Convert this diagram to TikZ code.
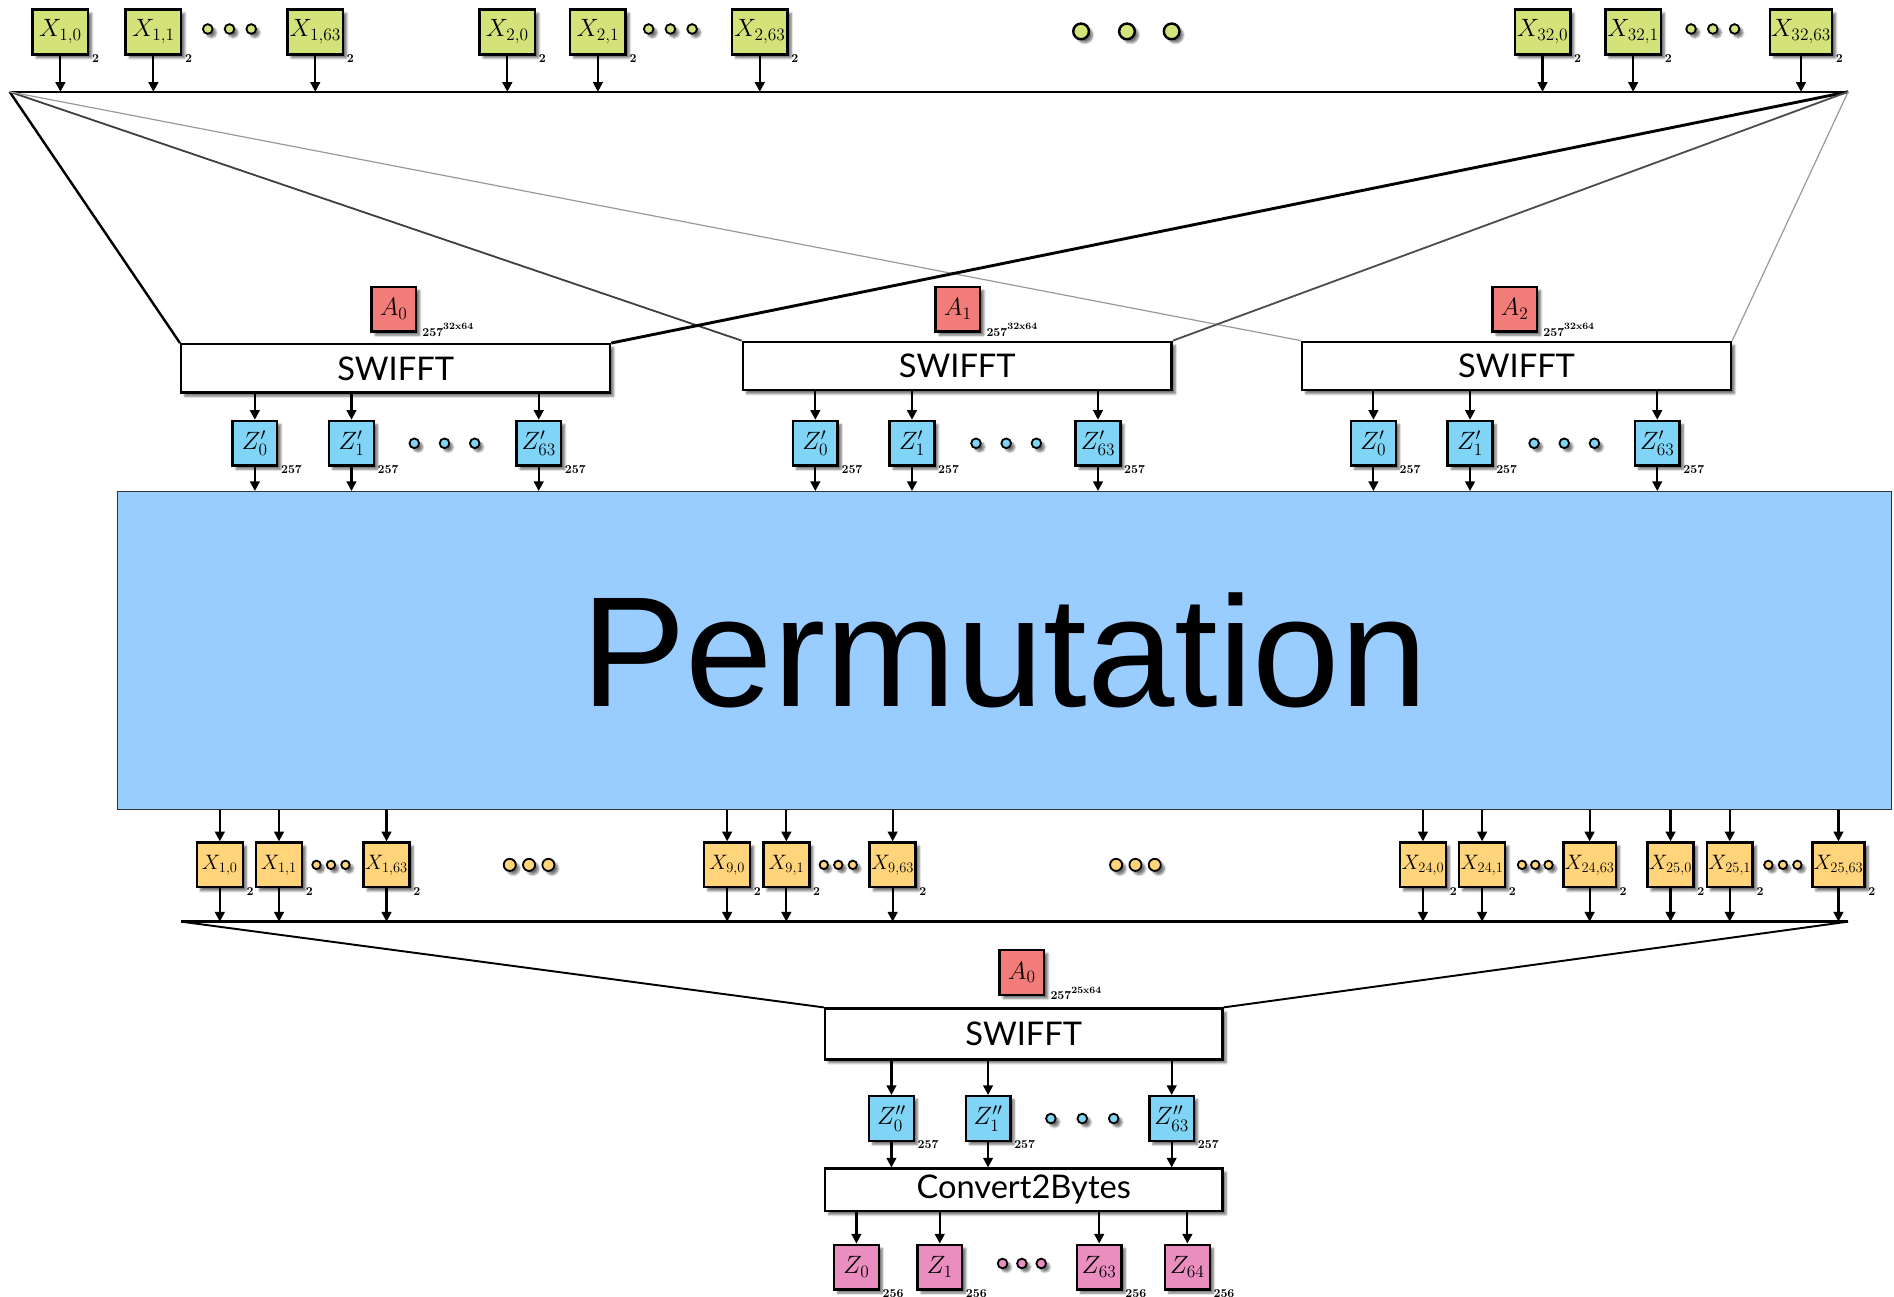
\documentclass[tikz,border=0pt]{standalone}
\usepackage{fontspec}
\newfontfamily\labelfont{Lato}
\newfontfamily\bigfont{Liberation Sans}
\usetikzlibrary{arrows.meta,shadows.blur}

\definecolor{inyellow}{RGB}{212,226,122}
\definecolor{amatrix}{RGB}{242,124,122}
\definecolor{zblue}{RGB}{128,212,246}
\definecolor{xorange}{RGB}{255,212,122}
\definecolor{zpink}{RGB}{234,142,192}
\definecolor{permblue}{RGB}{153,204,255}

% modulus 257 with a raised dimension, set beside a matrix box
\newcommand{\matdim}[1]{257\raisebox{5pt}{\fontsize{8}{8}\selectfont #1}}

\tikzset{
  shade/.style={blur shadow={shadow xshift=3pt, shadow yshift=-3pt, shadow blur steps=6, shadow opacity=55}},
  cell/.style={draw=black, line width=2pt, minimum height=37pt, inner sep=1pt, shade},
  xin/.style={cell, fill=inyellow, minimum width=46pt, font=\fontsize{20}{20}\selectfont,
    label={[modsub]south east:2}},
  xmid/.style={cell, fill=xorange, minimum width=38pt, font=\fontsize{17}{17}\selectfont,
    label={[modsub]south east:2}},
  amat/.style={cell, fill=amatrix, minimum width=37pt, font=\fontsize{22}{22}\selectfont},
  zmid/.style={cell, fill=zblue, minimum width=37pt, font=\fontsize{21}{21}\selectfont,
    label={[modsub]south east:257}},
  zout/.style={cell, fill=zpink, minimum width=37pt, font=\fontsize{21}{21}\selectfont,
    label={[modsub]south east:256}},
  modsub/.style={anchor=south west, inner sep=0pt, xshift=2pt, yshift=-6pt,
    font=\fontsize{10}{10}\bfseries\selectfont},
  stage/.style={draw=black, line width=2pt, fill=white, minimum height=40pt,
    font=\labelfont\fontsize{27}{27}\selectfont, shade},
  arr/.style={-{Triangle[length=8pt,width=8pt]}, line width=1.8pt},
  bus/.style={line width=2pt},
  dotsm/.style={circle, draw=black, line width=1.5pt, inner sep=0pt, minimum size=8pt, shade},
  dotbig/.style={circle, draw=black, line width=2pt, inner sep=0pt, minimum size=13pt, shade},
  dotmid/.style={circle, draw=black, line width=1.5pt, inner sep=0pt, minimum size=10pt, shade},
}

\begin{document}
\begin{tikzpicture}[x=1pt, y=-1pt]
\useasboundingbox (0,0) rectangle (1568,1073);

% ---------- input words and the input bus ----------
\coordinate (busL) at (8,76);
\coordinate (busR) at (1530,76);
\draw[bus] (busL) -- (busR);

\foreach \n/\x/\t in {a/50/{1,0}, b/127/{1,1}, c/261/{1,63}, d/420/{2,0}, e/495/{2,1},
                      f/629/{2,63}, g/1277/{32,0}, h/1352/{32,1}, i/1491/{32,63}} {
  \node[xin] (in\n) at (\x,26.5) {$X_{\t}$};
  \draw[arr] (in\n.south) -- (in\n.south |- busL);
}
\foreach \n/\x in {a1/172, a2/190, a3/208, b1/537, b2/555, b3/573, c1/1400, c2/1418, c3/1436} {
  \node[dotsm, fill=inyellow] (din\n) at (\x,24) {};
}
\foreach \n/\x in {1/895, 2/933, 3/970} {
  \node[dotbig, fill=inyellow] (dgrp\n) at (\x,26) {};
}

% ---------- three SWIFFT stages ----------
\node[stage, minimum width=355pt] (sw0) at (327.5,305) {SWIFFT};
\node[stage, minimum width=355pt] (sw1) at (792.5,303) {SWIFFT};
\node[stage, minimum width=355pt] (sw2) at (1255.5,303) {SWIFFT};

\node[amat] (a0) at (326,256) {$A_0$};
\node[amat] (a1) at (793,256) {$A_1$};
\node[amat] (a2) at (1254,256) {$A_2$};
\foreach \n in {a0,a1,a2} {
  \node[modsub, xshift=2pt, yshift=3pt] (\n exp) at (\n.south east) {\matdim{32x64}};
}

% wiring from the bus ends into each stage
\draw[line width=2pt] (busL) -- (sw0.north west);
\draw[line width=1.5pt, black!75] (busL) -- (sw1.north west);
\draw[line width=1pt, black!40] (busL) -- (sw2.north west);
\draw[line width=2.4pt] (busR) -- (sw0.north east);
\draw[line width=1.5pt, black!70] (busR) -- (sw1.north east);
\draw[line width=1pt, black!40] (busR) -- (sw2.north east);

% ---------- permutation ----------
\node[draw=black!80, line width=1pt, fill=permblue, minimum width=1469pt, minimum height=263pt,
      font=\bigfont\fontsize{130}{130}\selectfont] (perm) at (831.5,538.5) {Permutation};

% stage outputs feeding the permutation
\foreach \s/\n/\x/\t in {sw0/z00/211/0, sw0/z01/291/1, sw0/z02/446/63,
                         sw1/z10/675/0, sw1/z11/755/1, sw1/z12/909/63,
                         sw2/z20/1137/0, sw2/z21/1217/1, sw2/z22/1372/63} {
  \node[zmid] (\n) at (\x,367) {$Z'_{\t}$};
  \draw[arr] (\s.south -| \n) -- (\n.north);
  \draw[arr] (\n.south) -- (\n.south |- perm.north);
}
\foreach \n/\x in {a1/343, a2/368, a3/393, b1/808, b2/833, b3/858, c1/1270, c2/1295, c3/1320} {
  \node[dotsm, fill=zblue] (dz\n) at (\x,367) {};
}

% ---------- permuted words and the second bus ----------
\coordinate (busBL) at (150,763);
\coordinate (busBR) at (1530,763);
\draw[bus] (busBL) -- (busBR);

\foreach \n/\x/\t in {a/182/{1,0}, b/231/{1,1}, c/320/{1,63}, d/602/{9,0}, e/651/{9,1},
                      f/739/{9,63}, g/1178/{24,0}, h/1227/{24,1}, i/1316/{24,63},
                      j/1383/{25,0}, k/1432/{25,1}, l/1522/{25,63}} {
  \node[xmid] (mx\n) at (\x,716) {$X_{\t}$};
  \draw[arr] (perm.south -| mx\n) -- (mx\n.north);
  \draw[arr] (mx\n.south) -- (mx\n.south |- busBL);
}
\foreach \n/\x in {a1/262, a2/274, a3/286, b1/682, b2/694, b3/706, c1/1260, c2/1271, c3/1282,
                   d1/1464, d2/1476, d3/1488} {
  \node[dotsm, minimum size=7pt, fill=xorange] (dmx\n) at (\x,716) {};
}
\foreach \n/\x in {a1/422, a2/438, a3/454, b1/924, b2/940, b3/956} {
  \node[dotmid, fill=xorange] (dmg\n) at (\x,716) {};
}

% ---------- final SWIFFT ----------
\node[stage, minimum width=329pt, minimum height=42pt] (sw3) at (847.5,856) {SWIFFT};
\node[amat] (a3) at (846,805) {$A_0$};
\node[modsub, xshift=2pt, yshift=3pt] (a3exp) at (a3.south east) {\matdim{25x64}};
\draw[line width=1.6pt] (busBL) -- (sw3.north west);
\draw[line width=1.6pt] (busBR) -- (sw3.north east);

\node[stage, minimum width=329pt, minimum height=35pt] (conv) at (847.5,985) {Convert2Bytes};

\foreach \n/\x/\t in {f0/738/0, f1/818/1, f2/970/63} {
  \node[zmid] (\n) at (\x,926) {$Z''_{\t}$};
  \draw[arr] (sw3.south -| \n) -- (\n.north);
  \draw[arr] (\n.south) -- (\n.south |- conv.north);
}
\foreach \n/\x in {1/870, 2/896, 3/922} {
  \node[dotsm, fill=zblue] (dzf\n) at (\x,926) {};
}

% ---------- output bytes ----------
\foreach \n/\x/\t in {o0/709/0, o1/778/1, o2/910/63, o3/983/64} {
  \node[zout] (\n) at (\x,1049) {$Z_{\t}$};
  \draw[arr] (conv.south -| \n) -- (\n.north);
}
\foreach \n/\x in {1/830, 2/846, 3/862} {
  \node[dotsm, fill=zpink] (dzo\n) at (\x,1046) {};
}
\end{tikzpicture}
\end{document}
